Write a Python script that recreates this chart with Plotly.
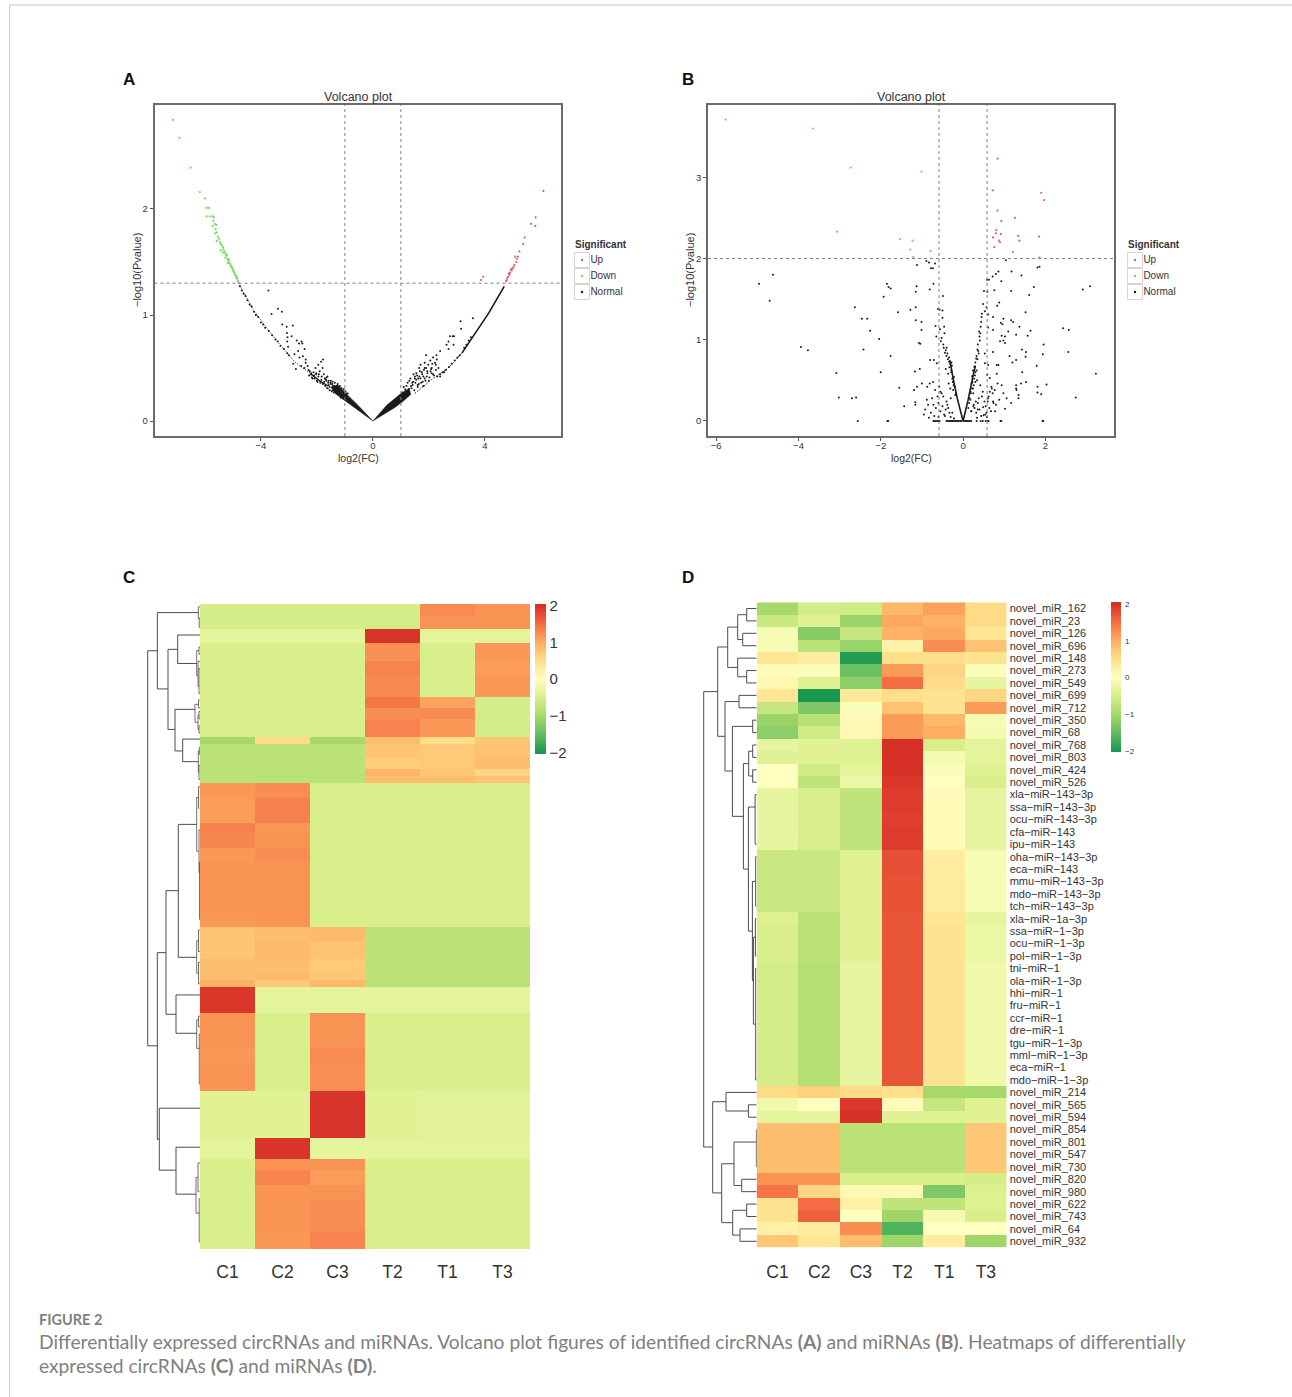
import plotly.graph_objects as go

W, H = 1292, 1397
FONT = "Liberation Sans"
LEGEND_NAMES = ["Up", "Down", "Normal"]
LEGEND_COLORS = ["#d9606a", "#6fdc5c", "#1a1a1a"]
GROUPS = ["C1", "C2", "C3", "T2", "T1", "T3"]

# ---------- Panel A values (log2(FC), -log10(Pvalue)) ----------
a_up_x = [6.09, 5.81, 5.65, 5.80, 5.42, 5.37, 5.23, 5.18, 5.14, 5.12, 5.08, 5.05, 5.02, 4.98, 4.96, 4.93, 4.90, 4.88, 4.85, 4.83, 4.80, 4.78, 4.76, 3.94, 3.86]
a_up_y = [2.17, 1.92, 1.86, 1.84, 1.73, 1.67, 1.60, 1.55, 1.53, 1.50, 1.55, 1.47, 1.45, 1.44, 1.42, 1.43, 1.40, 1.38, 1.39, 1.36, 1.35, 1.33, 1.32, 1.36, 1.33]
a_down_x = [-7.14, -6.91, -6.51, -6.18, -5.99, -5.94, -5.86, -5.94, -5.82, -5.72, -5.70, -5.68, -5.65, -5.72, -5.62, -5.60, -5.57, -5.63, -5.54, -5.50, -5.58, -5.47, -5.44, -5.40, -5.44, -5.36, -5.34, -5.30, -5.36, -5.27, -5.24, -5.22, -5.27, -5.19, -5.16, -5.14, -5.18, -5.11, -5.09, -5.06, -5.04, -5.02, -5.00, -4.98, -4.96, -4.94, -4.92, -4.90, -4.88, -4.86, -4.84, -4.82, -4.80]
a_down_y = [2.84, 2.67, 2.39, 2.16, 2.10, 2.01, 2.01, 1.93, 1.93, 1.93, 1.89, 1.92, 1.86, 1.84, 1.81, 1.85, 1.78, 1.77, 1.74, 1.72, 1.70, 1.69, 1.67, 1.66, 1.61, 1.64, 1.62, 1.60, 1.59, 1.58, 1.56, 1.57, 1.54, 1.53, 1.51, 1.52, 1.49, 1.49, 1.47, 1.46, 1.45, 1.44, 1.42, 1.42, 1.40, 1.40, 1.38, 1.37, 1.36, 1.35, 1.34, 1.32, 1.31]
a_normal_x = [-3.73, -3.62, -3.39, -3.25, -3.24, -3.08, -2.86, -3.07, -3.05, -2.90, -3.06, -3.03, -2.72, -2.64, -2.55, -2.52, -2.44, -2.67, -2.80, -2.62, -2.50, -2.40, -3.06, -3.00, -2.85, -2.75, -2.56, -2.45, -2.33, -2.30, -2.20, -2.05, -1.95, -1.85, -1.78, -1.80, -1.90, -2.10, -2.00, -1.95, -1.83, -1.75, -1.60, -1.50, -1.45, -1.38, -1.35, -1.28, -1.20, -1.15, -2.40, -2.25, -2.15, -2.28, -2.02, -1.68, -1.55, -1.62, -1.42,
              -2.22, -2.18, -2.12, -2.08, -2.03, -1.98, -1.93, -1.88, -1.84, -1.79, -1.74, -1.70, -1.66, -1.63, -1.58, -1.54, -1.50, -1.47, -1.43, -1.40, -1.72, -1.66, -1.58, -1.52, -1.44, -1.36, -1.30, -1.26, -1.22, -1.18, -1.12, -1.08, -1.04, -0.98, -0.94, -0.90, -1.15, -1.05,
              -4.75, -4.68, -4.62, -4.55, -4.48, -4.40, -4.33, -4.25, -4.18, -4.10, -4.00, -3.92, -3.85, -3.72, -3.60, -3.48, -3.40, -3.30, -3.18,
              3.57, 3.13, 3.15, 2.90, 2.85, 2.75, 2.70, 2.88, 2.63, 2.70, 2.40, 2.27, 2.28, 1.90, 1.85, 2.15, 2.05, 1.70, 1.65, 1.85, 2.10, 1.95, 1.75, 1.55, 1.50, 1.45, 1.70, 1.85, 1.30, 1.40, 1.60, 1.20, 1.15, 1.80, 2.00, 2.25, 2.15, 2.40, 2.55, 1.90, 2.10, 2.25, 1.62, 1.78, 1.38, 1.52,
              1.05, 1.10, 1.18, 1.24, 1.28, 1.34, 1.42, 1.48, 1.55, 1.60, 1.66, 1.72, 1.80, 1.88, 1.94, 2.02, 2.08, 2.18, 2.22, 2.34, 1.36, 1.44, 1.50, 1.58, 1.64, 1.68, 1.76, 1.82, 1.92, 1.98, 2.06, 2.12,
              2.30, 2.40, 2.50, 2.60, 2.72, 2.82, 2.92, 3.02, 3.10, 3.26, 3.34, 3.42, 3.50]
a_normal_y = [1.23, 1.01, 1.06, 1.03, 0.91, 0.89, 0.90, 0.83, 0.79, 0.80, 0.75, 0.70, 0.76, 0.73, 0.75, 0.73, 0.68, 0.66, 0.63, 0.60, 0.61, 0.58, 0.64, 0.62, 0.54, 0.49, 0.52, 0.50, 0.52, 0.48, 0.45, 0.50, 0.53, 0.56, 0.58, 0.50, 0.47, 0.43, 0.38, 0.42, 0.42, 0.44, 0.36, 0.38, 0.35, 0.33, 0.30, 0.30, 0.27, 0.25, 0.55, 0.47, 0.40, 0.43, 0.45, 0.39, 0.32, 0.42, 0.29,
              0.44, 0.41, 0.46, 0.40, 0.44, 0.37, 0.44, 0.36, 0.39, 0.35, 0.37, 0.33, 0.38, 0.31, 0.34, 0.29, 0.35, 0.28, 0.33, 0.27, 0.40, 0.41, 0.38, 0.36, 0.37, 0.36, 0.33, 0.35, 0.31, 0.33, 0.31, 0.28, 0.30, 0.28, 0.26, 0.26, 0.22, 0.21,
              1.27, 1.23, 1.20, 1.18, 1.14, 1.10, 1.08, 1.03, 1.00, 0.98, 0.93, 0.91, 0.88, 0.85, 0.81, 0.77, 0.75, 0.71, 0.68,
              0.97, 0.94, 0.87, 0.80, 0.80, 0.80, 0.75, 0.72, 0.72, 0.68, 0.66, 0.62, 0.58, 0.62, 0.55, 0.60, 0.57, 0.53, 0.50, 0.50, 0.50, 0.45, 0.46, 0.45, 0.42, 0.44, 0.40, 0.40, 0.38, 0.36, 0.34, 0.33, 0.30, 0.33, 0.38, 0.48, 0.44, 0.42, 0.46, 0.50, 0.45, 0.53, 0.40, 0.37, 0.31, 0.36,
              0.27, 0.32, 0.28, 0.36, 0.30, 0.40, 0.34, 0.29, 0.39, 0.32, 0.42, 0.36, 0.42, 0.38, 0.47, 0.41, 0.49, 0.43, 0.55, 0.50, 0.33, 0.37, 0.40, 0.43, 0.35, 0.47, 0.44, 0.48, 0.42, 0.53, 0.47, 0.54,
              0.42, 0.44, 0.46, 0.48, 0.51, 0.54, 0.57, 0.60, 0.62, 0.69, 0.72, 0.76, 0.79]
# densest arcs and wedges of panel A, read as polylines and outlines
a_ridges = [
    ([-4.8, -4.27, -3.77, -3.35, -2.80, -2.14, -1.53], [1.30, 1.05, 0.87, 0.73, 0.56, 0.43, 0.29], 1.0, "1px,1.5px"),
    ([1.5, 2.09, 2.69, 3.18], [0.26, 0.39, 0.50, 0.64], 1.0, "1.5px,1.5px"),
    ([3.18, 3.66, 4.14, 4.69], [0.64, 0.83, 1.02, 1.27], 1.6, "solid"),
    ([-2.2, -1.9, -1.6], [0.44, 0.38, 0.33], 1.4, "solid"),
]
a_wedge_x = [0.0, -0.9, -1.35, -1.50, -1.25, -1.0, -0.5, 0.0, None, 0.0, 0.8, 1.1, 1.35, 1.30, 1.0, 0.5, 0.0]
a_wedge_y = [0.0, 0.17, 0.26, 0.32, 0.34, 0.27, 0.14, 0.0, None, 0.0, 0.13, 0.19, 0.25, 0.31, 0.26, 0.15, 0.0]

# ---------- Panel B values ----------
b_up_x = [0.84, 0.72, 1.90, 1.97, 0.84, 1.26, 0.93, 0.81, 0.80, 0.92, 0.73, 0.87, 0.90, 1.34, 1.37, 1.85, 0.76, 1.21, 1.86]
b_up_y = [3.23, 2.84, 2.81, 2.72, 2.59, 2.50, 2.46, 2.35, 2.31, 2.30, 2.26, 2.22, 2.20, 2.28, 2.22, 2.27, 2.14, 2.08, 2.01]
b_down_x = [-5.77, -3.65, -2.73, -1.01, -3.06, -1.53, -1.23, -1.28, -0.79, -1.21]
b_down_y = [3.71, 3.60, 3.12, 3.07, 2.33, 2.24, 2.22, 2.11, 2.09, 2.02]
b_normal_x = [-4.62, -4.96, -4.70, -3.94, -3.77, -2.63, -2.46, -2.33, -2.26, -2.04, -2.42, -1.93, -1.85, -1.81, -1.76, -1.58, -1.28, -1.15, -1.15, -1.01, -1.01, -1.07, -1.04, -1.76, -1.13, -1.15, -1.12, -0.89, -0.83, -0.78, -0.73, -0.68, -0.72, -0.81, -0.49, -0.61, -0.57, -0.50,
              -3.08, -2.00, -3.02, -2.70, -2.60, -1.55, -1.43, -1.16, -1.16, -1.19, -1.12, -1.17, -1.05, -1.00, -0.87, -0.81, -0.73, -0.80, -0.71, -0.64, -0.67, -0.65,
              3.09, 2.91, 3.23, 2.74, 2.43, 2.57, 2.56, 1.96, 1.94, 2.03, 1.79, 1.81, 1.81, 1.90, 1.86, 1.81, 1.72, 1.61, 1.52, 1.64, 1.57, 1.42, 1.18, 1.17, 1.37, 1.29, 1.43, 1.53, 1.52, 1.29, 1.20, 1.13, 1.44, 1.53, 1.41, 1.29, 1.29, 1.30, 1.35, 1.35, 1.17, 1.02, 1.06,
              1.04, 0.86, 0.80, 0.72, 0.63, 0.58, 0.93, 0.76, 0.51, 0.59, 0.88, 0.83, 0.49, 0.57, 0.53, 0.61, 0.73, 0.98, 1.17, 1.22, 0.92, 0.96, 0.61, 0.73, 1.10, 0.94, 1.02, 0.90, 0.98, 1.02, 0.73, 0.53, 0.86, 0.82, 0.53, 0.61, 0.82, 0.59, 0.65, 0.84, 0.94, 0.69, 0.77, 0.65, 0.98, 0.73, 0.61, 0.49, 0.57, 0.36,
              -0.50, -0.46, -0.45, -0.54, -0.48, -0.42, -0.38, -0.34, -0.56, -0.52, -0.47, -0.44, -0.40, -0.37,
              0.45, 0.43, 0.40, 0.36, 0.38, 0.32, 0.28, 0.44, 0.39, 0.41, 0.35, 0.46, 0.33, 0.30, 0.24, 0.22, 0.42,
              -0.92, -0.85, -0.78, -0.70, -0.66, -0.60, -0.55, -0.50, -0.46, -0.42, -0.75, -0.62, -0.52, -0.95, -0.83, -0.68, -0.58, -0.48, -0.40, -0.36, -0.33, -0.88, -0.72, -0.60, -0.44, -0.30, -0.26, -0.22, -0.55, -0.38,
              0.28, 0.32, 0.36, 0.40, 0.46, 0.50, 0.55, 0.60, 0.68, 0.72, 0.80, 0.88, 0.25, 0.34, 0.42, 0.48, 0.54, 0.64, 0.70, 0.78, 0.20, 0.30, 0.38, 0.52, 0.62, 0.18, 0.26, 0.44, 0.58, 0.74,
              -0.35, -0.31, -0.28, -0.25, -0.22, -0.19, -0.30, -0.27, -0.24, -0.20, -0.17, -0.42, -0.36, -0.33, -0.29, -0.26, -0.23, -0.40, -0.34, -0.31, -0.28,
              0.15, 0.18, 0.21, 0.24, 0.27, 0.30, 0.13, 0.16, 0.19, 0.23, 0.26, 0.29, 0.33, 0.20, 0.25, 0.31, 0.35, 0.37, 0.22, 0.28, 0.34,
              -2.56, -1.84, -1.82, -0.72, -0.69, -0.66, -0.63, -0.60, -0.57, -0.40, -0.37, -0.34, -0.31, -0.28, -0.25, -0.22, -0.19, -0.16, -0.13, -0.10, -0.07, -0.04, 0.02, 0.05, 0.08, 0.11, 0.14, 0.17, 0.20, 0.33, 0.43, 0.48, 0.55, 0.60, 0.62, 0.91, 0.93, 1.93, 1.95]
b_normal_y = [1.80, 1.69, 1.48, 0.91, 0.87, 1.40, 1.26, 1.26, 1.11, 1.01, 0.88, 1.53, 1.69, 1.65, 1.63, 1.34, 1.37, 1.40, 1.24, 1.22, 1.12, 0.96, 0.95, 0.80, 1.66, 1.59, 1.92, 1.97, 1.95, 1.88, 1.88, 1.94, 1.69, 1.62, 1.54, 1.38, 1.37, 1.36,
              0.59, 0.60, 0.29, 0.28, 0.29, 0.41, 0.18, 0.23, 0.20, 0.38, 0.42, 0.61, 0.64, 0.46, 0.42, 0.46, 0.48, 0.75, 0.75, 0.71, 1.17, 1.04,
              1.66, 1.62, 0.58, 0.29, 1.14, 1.12, 0.85, 0.94, 0.82, 0.45, 0.68, 0.42, 0.35, 0.33, 1.90, 1.89, 1.65, 1.55, 1.34, 1.11, 1.05, 1.79, 1.84, 1.60, 1.16, 1.06, 0.88, 0.85, 0.79, 0.75, 0.72, 0.80, 0.60, 0.48, 0.46, 0.44, 0.40, 0.38, 0.32, 0.28, 0.22, 0.15, 0.28,
              1.98, 1.84, 1.81, 1.78, 1.74, 1.74, 1.72, 1.61, 1.60, 1.59, 1.46, 1.42, 1.44, 1.40, 1.35, 1.31, 1.28, 1.26, 1.24, 1.22, 1.21, 1.19, 1.15, 1.12, 1.10, 1.05, 1.04, 0.98, 0.99, 0.96, 0.85, 0.83, 0.69, 0.69, 0.71, 0.69, 0.58, 0.57, 0.53, 0.46, 0.44, 0.42, 0.38, 0.36, 0.34, 0.24, 0.28, 0.17, 0.10, 0.14,
              1.27, 1.16, 1.08, 0.98, 0.94, 0.87, 0.83, 0.73, 1.13, 1.02, 0.90, 0.84, 0.80, 0.76,
              1.28, 1.16, 1.04, 0.94, 0.83, 0.77, 0.67, 1.22, 1.10, 0.99, 0.88, 1.32, 0.80, 0.72, 0.62, 0.55, 1.08,
              0.14, 0.20, 0.10, 0.06, 0.16, 0.22, 0.12, 0.18, 0.08, 0.14, 0.28, 0.30, 0.34, 0.08, 0.04, 0.38, 0.42, 0.30, 0.24, 0.16, 0.10, 0.26, 0.20, 0.05, 0.06, 0.05, 0.10, 0.03, 0.36, 0.20,
              0.16, 0.10, 0.22, 0.14, 0.30, 0.07, 0.18, 0.24, 0.12, 0.34, 0.20, 0.26, 0.34, 0.04, 0.44, 0.36, 0.08, 0.16, 0.40, 0.12, 0.12, 0.48, 0.28, 0.24, 0.30, 0.26, 0.20, 0.06, 0.05, 0.22,
              0.46, 0.40, 0.62, 0.48, 0.54, 0.32, 0.28, 0.68, 0.38, 0.42, 0.34, 0.64, 0.58, 0.66, 0.60, 0.52, 0.44, 0.90, 0.78, 0.70, 0.72,
              0.22, 0.36, 0.46, 0.40, 0.52, 0.60, 0.16, 0.28, 0.34, 0.48, 0.44, 0.56, 0.62, 0.12, 0.18, 0.24, 0.76, 0.86, 0.40, 0.66, 0.50,
              0.0, 0.0, 0.0, 0.0, 0.0, 0.0, 0.0, 0.0, 0.0, 0.0, 0.0, 0.0, 0.0, 0.0, 0.0, 0.0, 0.0, 0.0, 0.0, 0.0, 0.0, 0.0, 0.0, 0.0, 0.0, 0.0, 0.0, 0.0, 0.0, 0.0, 0.0, 0.0, 0.0, 0.0, 0.0, 0.0, 0.0, 0.0, 0.0]
b_ridges = [
    ([0.0, -0.15, -0.25, -0.32], [0.0, 0.30, 0.55, 0.75], 1.6, "solid"),
    ([0.0, 0.12, 0.24, 0.30], [0.0, 0.25, 0.55, 0.68], 1.6, "solid"),
]

# ---------- Panel C heatmap values: row edges and one z row per band ----------
c_edges = [0, 3, 7, 11, 16, 20, 26, 29, 32, 37, 39, 43, 46, 48, 50, 54, 61, 64, 68, 72, 86, 90, 94, 99, 103, 105, 107, 114, 124, 128, 136, 149, 155, 158, 162, 166, 175, 180]
c_z = [
    [-0.55, -0.55, -0.55, -0.55, 1.28, 1.20],
    [-0.55, -0.55, -0.55, -0.55, 1.20, 1.20],
    [-0.35, -0.35, -0.35, 1.97, -0.35, -0.35],
    [-0.50, -0.50, -0.50, 1.22, -0.50, 1.18],
    [-0.50, -0.50, -0.50, 1.32, -0.50, 1.13],
    [-0.50, -0.50, -0.50, 1.28, -0.50, 1.17],
    [-0.50, -0.50, -0.50, 1.42, 1.08, -0.55],
    [-0.50, -0.50, -0.50, 1.25, 1.27, -0.55],
    [-0.50, -0.50, -0.50, 1.32, 1.17, -0.55],
    [-1.00, 0.55, -1.00, 0.85, 0.50, 0.75],
    [-0.80, -0.80, -0.80, 0.77, 0.72, 0.80],
    [-0.80, -0.80, -0.80, 0.68, 0.72, 0.85],
    [-0.80, -0.80, -0.80, 0.92, 0.75, 0.60],
    [-0.80, -0.80, -0.80, 0.85, 0.85, 0.80],
    [1.17, 1.25, -0.50, -0.50, -0.50, -0.50],
    [1.13, 1.35, -0.50, -0.50, -0.50, -0.50],
    [1.35, 1.18, -0.50, -0.50, -0.50, -0.50],
    [1.30, 1.20, -0.50, -0.50, -0.50, -0.50],
    [1.17, 1.25, -0.50, -0.50, -0.50, -0.50],
    [1.20, 1.20, -0.50, -0.50, -0.50, -0.50],
    [1.17, 1.20, -0.50, -0.50, -0.50, -0.50],
    [0.77, 0.85, 0.88, -0.80, -0.80, -0.80],
    [0.77, 0.88, 0.80, -0.80, -0.80, -0.80],
    [0.85, 0.85, 0.72, -0.80, -0.80, -0.80],
    [0.85, 0.88, 0.75, -0.80, -0.80, -0.80],
    [0.97, 0.72, 0.90, -0.80, -0.80, -0.80],
    [1.95, -0.35, -0.35, -0.35, -0.35, -0.35],
    [1.20, -0.50, 1.20, -0.50, -0.50, -0.50],
    [1.17, -0.50, 1.27, -0.50, -0.50, -0.50],
    [1.20, -0.50, 1.23, -0.50, -0.50, -0.50],
    [-0.40, -0.40, 1.97, -0.40, -0.38, -0.38],
    [-0.35, 1.97, -0.35, -0.35, -0.35, -0.35],
    [-0.50, 1.20, 1.20, -0.50, -0.50, -0.50],
    [-0.50, 1.33, 1.13, -0.50, -0.50, -0.50],
    [-0.50, 1.20, 1.20, -0.50, -0.50, -0.50],
    [-0.50, 1.20, 1.25, -0.50, -0.50, -0.50],
    [-0.50, 1.17, 1.32, -0.50, -0.50, -0.50],
]
# dendrogram merges: (height, row_a, height_a, row_b, height_b)
c_merges = [
    (22.3, 8.65, 0, 16.6, 3.3), (17.3, 37.7, 0, 44, 1.7), (25, 29.4, 5, 41, 17.3), (32, 12.65, 22.3, 35, 25),
    (42.7, 2.4, 1.7, 23.7, 32), (21.7, 61.5, 3.3, 98.6, 3.3), (24, 109.1, 0, 119.8, 3.3), (34, 80, 21.7, 114.5, 24),
    (24, 151.6, 0, 164.7, 4), (40.7, 140.7, 0, 158, 24), (42.7, 97.3, 34, 149.4, 40.7), (52.3, 13.05, 42.7, 123.3, 42.7),
]
c_fine_merges = [
    (1.7, 0.8, 0, 4, 0), (0.8, 4, 0, 6.5, 0),
    (3.3, 13, 1, 20, 2), (2, 16, 0, 23, 1), (1, 12, 0, 14, 0), (1, 18, 0, 25, 0),
    (5, 28, 1.5, 33, 2), (1.5, 26.8, 0, 29, 0), (2, 31, 1, 35, 1), (1, 30, 0, 32, 0), (1, 34, 0, 36, 0),
    (1.7, 41, 0.7, 47, 1), (0.7, 40, 0, 42, 0), (1, 45, 0, 49, 0),
    (3.3, 54, 1.5, 69, 1), (1.5, 51, 0, 57, 0.5), (1, 63, 0, 75, 0.5), (0.5, 72, 0, 88, 0),
    (3.3, 94, 1.5, 103, 1.5), (1.5, 91, 0, 97, 0), (1.5, 100, 0, 106, 0),
    (3.3, 116, 1.5, 124, 0.7), (1.5, 115, 0, 118, 0), (0.7, 120, 0, 134, 0),
    (4, 160, 2, 170, 0.8), (2, 156, 0, 164, 0.5), (0.8, 166, 0, 178, 0),
]

# ---------- Panel D heatmap values ----------
d_names = ["novel_miR_162", "novel_miR_23", "novel_miR_126", "novel_miR_696", "novel_miR_148", "novel_miR_273", "novel_miR_549", "novel_miR_699", "novel_miR_712", "novel_miR_350", "novel_miR_68", "novel_miR_768", "novel_miR_803", "novel_miR_424", "novel_miR_526",
           "xla−miR−143−3p", "ssa−miR−143−3p", "ocu−miR−143−3p", "cfa−miR−143", "ipu−miR−143", "oha−miR−143−3p", "eca−miR−143", "mmu−miR−143−3p", "mdo−miR−143−3p", "tch−miR−143−3p",
           "xla−miR−1a−3p", "ssa−miR−1−3p", "ocu−miR−1−3p", "pol−miR−1−3p", "tni−miR−1", "ola−miR−1−3p", "hhi−miR−1", "fru−miR−1", "ccr−miR−1", "dre−miR−1", "tgu−miR−1−3p", "mml−miR−1−3p", "eca−miR−1", "mdo−miR−1−3p",
           "novel_miR_214", "novel_miR_565", "novel_miR_594", "novel_miR_854", "novel_miR_801", "novel_miR_547", "novel_miR_730", "novel_miR_820", "novel_miR_980", "novel_miR_622", "novel_miR_743", "novel_miR_64", "novel_miR_932"]
d_z = [
    [-1.00, -0.55, -0.60, 0.90, 1.10, 0.55], [-0.65, -0.40, -1.10, 1.05, 0.95, 0.55], [-0.10, -1.25, -0.70, 0.95, 1.05, 0.40], [-0.10, -0.80, -1.10, 0.20, 1.25, 0.80],
    [0.40, 0.30, -1.95, 0.50, 0.50, 0.45], [0.05, -0.05, -1.45, 1.15, 0.60, -0.05], [0.15, -0.40, -1.20, 1.50, 0.55, -0.30], [0.40, -2.00, 0.35, 0.50, 0.45, 0.60],
    [-0.70, -1.30, -0.05, 0.80, 0.45, 1.15], [-1.10, -0.85, 0.10, 1.15, 0.90, -0.10], [-1.20, -0.60, 0.10, 1.15, 1.00, -0.15], [-0.30, -0.40, -0.45, 2.00, -0.50, -0.35],
    [-0.40, -0.40, -0.45, 2.00, -0.15, -0.35], [0.00, -0.60, -0.35, 2.00, -0.05, -0.40], [0.00, -0.75, -0.25, 1.95, 0.00, -0.50],
    [-0.30, -0.50, -0.75, 1.90, 0.05, -0.30], [-0.30, -0.50, -0.75, 1.90, 0.05, -0.30], [-0.30, -0.50, -0.75, 1.88, 0.05, -0.30], [-0.30, -0.50, -0.75, 1.90, 0.05, -0.30], [-0.30, -0.52, -0.75, 1.90, 0.05, -0.30],
    [-0.65, -0.65, -0.40, 1.75, 0.30, -0.10], [-0.65, -0.65, -0.40, 1.75, 0.30, -0.10], [-0.65, -0.65, -0.40, 1.72, 0.32, -0.10], [-0.65, -0.65, -0.40, 1.72, 0.32, -0.10], [-0.65, -0.65, -0.40, 1.72, 0.32, -0.10],
    [-0.45, -0.80, -0.40, 1.70, 0.40, -0.30], [-0.50, -0.80, -0.40, 1.70, 0.45, -0.25], [-0.50, -0.80, -0.40, 1.70, 0.45, -0.25], [-0.50, -0.80, -0.40, 1.70, 0.45, -0.25],
    [-0.55, -0.85, -0.30, 1.70, 0.45, -0.20], [-0.55, -0.85, -0.30, 1.70, 0.45, -0.20], [-0.55, -0.85, -0.30, 1.70, 0.45, -0.20], [-0.55, -0.85, -0.30, 1.70, 0.45, -0.20], [-0.55, -0.85, -0.30, 1.70, 0.45, -0.20],
    [-0.55, -0.85, -0.30, 1.70, 0.45, -0.20], [-0.55, -0.85, -0.30, 1.70, 0.45, -0.20], [-0.55, -0.85, -0.30, 1.70, 0.45, -0.20], [-0.55, -0.85, -0.30, 1.70, 0.45, -0.20], [-0.55, -0.85, -0.30, 1.70, 0.45, -0.20],
    [0.55, 0.65, 0.55, 0.50, -1.00, -1.00], [-0.20, 0.00, 1.95, 0.05, -0.70, -0.40], [-0.35, -0.30, 2.00, -0.40, -0.40, -0.40],
    [0.85, 0.85, -0.80, -0.80, -0.80, 0.75], [0.85, 0.85, -0.80, -0.80, -0.80, 0.75], [0.85, 0.85, -0.80, -0.80, -0.80, 0.75], [0.85, 0.85, -0.80, -0.80, -0.80, 0.75],
    [1.20, 1.20, -0.50, -0.50, -0.50, -0.55], [1.45, 0.60, 0.10, 0.10, -1.30, -0.45], [0.45, 1.50, 0.25, -0.75, -0.75, -0.45], [0.45, 1.60, 0.00, -1.05, -0.15, -0.50],
    [0.25, 0.30, 1.25, -1.65, 0.00, 0.00], [0.75, 0.40, 0.85, -1.05, 0.30, -1.05],
]
d_merges = [
    (10, .5, 0, 1.5, 0), (14, 2.5, 0, 3.5, 0), (19, 1, 10, 3, 14), (10, 5.5, 0, 6.5, 0), (19, 4.5, 0, 6, 10), (29, 2, 19, 5.25, 19),
    (17.7, 7.5, 0, 8.5, 0), (4, 9.5, 0, 10.5, 0), (4, 11.5, 0, 12.5, 0), (4, 13.5, 0, 14.5, 0), (8, 12, 4, 14, 4),
    (1.6, 15.5, 0, 19.5, 0), (1, 20.5, 0, 24.5, 0), (1.3, 25.5, 0, 28.5, 0), (1, 29.5, 0, 38.5, 0), (3.3, 27, 1.3, 34, 1), (4.3, 22.5, 1, 30.5, 3.3), (8.3, 16.5, 1.6, 26.5, 4.3),
    (13.3, 13, 8, 21.5, 8.3), (24.3, 10, 4, 17.25, 13.3), (31.7, 8, 17.7, 13.6, 24.3), (39, 3.6, 29, 10.8, 31.7),
    (8.3, 40.5, 0, 41.5, 0), (30.7, 39.5, 0, 41, 8.3), (0.3, 42.5, 0, 45.5, 0), (15, 46.5, 0, 47.5, 0), (22.7, 43.5, 0.3, 47, 15),
    (10, 48.5, 0, 49.5, 0), (16.7, 50.5, 0, 51.5, 0), (24, 49, 10, 51, 16.7), (35, 45.25, 22.7, 50, 24), (44, 40.25, 30.7, 47.6, 35), (53, 7.2, 39, 43.9, 44),
]

CMAP_STOPS = [(-2, "#1a9850"), (-1.5, "#66bd63"), (-1, "#a6d96a"), (-0.5, "#d9ef8b"), (0, "#ffffbf"), (0.5, "#fee08b"), (1, "#fdae61"), (1.5, "#f46d43"), (2, "#d73027")]
ZMIN, ZMAX = -2.04, 2.05
colorscale = [[0.0, "#1a9850"]] + [[(v - ZMIN) / (ZMAX - ZMIN), c] for v, c in CMAP_STOPS] + [[1.0, "#d73027"]]


def dom_x(a, b):
    return [a / W, b / W]


def dom_y(top, bottom):
    return [1 - bottom / H, 1 - top / H]


def bracket_lines(merges):
    xs, ys = [], []
    for h, ya, ha, yb, hb in merges:
        xs += [ha, h, h, hb, None]
        ys += [ya, ya, yb, yb, None]
    return xs, ys


fig = go.Figure()


def volcano(xa, ya, up, down, normal, ridges):
    for xy, color, name, size in [(up, LEGEND_COLORS[0], "Up", 2.2), (down, LEGEND_COLORS[1], "Down", 2.2), (normal, LEGEND_COLORS[2], "Normal", 2.0)]:
        fig.add_trace(go.Scatter(x=xy[0], y=xy[1], mode="markers", name=name, showlegend=False, xaxis=xa, yaxis=ya,
                                 marker=dict(color=color, size=size, line=dict(width=0))))
    for rx, ry, w, dash in ridges:
        fig.add_trace(go.Scatter(x=rx, y=ry, mode="lines", showlegend=False, xaxis=xa, yaxis=ya, line=dict(color="#1a1a1a", width=w, dash=dash)))


volcano("x", "y", (a_up_x, a_up_y), (a_down_x, a_down_y), (a_normal_x, a_normal_y), a_ridges)
fig.add_trace(go.Scatter(x=a_wedge_x, y=a_wedge_y, mode="lines", fill="toself", fillcolor="#1a1a1a", showlegend=False, xaxis="x", yaxis="y", line=dict(color="#1a1a1a", width=0.5)))
volcano("x2", "y2", (b_up_x, b_up_y), (b_down_x, b_down_y), (b_normal_x, b_normal_y), b_ridges)

# legend keys on small helper axes
legend_rows = [0, 1, 2]
for xa, ya in [("x7", "y7"), ("x8", "y8")]:
    fig.add_trace(go.Scatter(x=[0, 0, 0], y=legend_rows, mode="markers", showlegend=False, xaxis=xa, yaxis=ya,
                             marker=dict(symbol="square-open", size=15, color="#d4d4d4", line=dict(width=1, color="#d4d4d4"))))
    fig.add_trace(go.Scatter(x=[0, 0, 0], y=legend_rows, mode="markers", showlegend=False, xaxis=xa, yaxis=ya,
                             marker=dict(color=LEGEND_COLORS, size=2.4, line=dict(width=0))))
    fig.add_trace(go.Scatter(x=[1.05, 1.05, 1.05], y=legend_rows, mode="text", text=LEGEND_NAMES, textposition="middle right", cliponaxis=False,
                             showlegend=False, xaxis=xa, yaxis=ya, textfont=dict(family=FONT, size=10, color="#333333")))

fig.add_trace(go.Heatmap(z=c_z, x=GROUPS, y=c_edges, xaxis="x3", yaxis="y3", zmin=ZMIN, zmax=ZMAX, colorscale=colorscale, hoverinfo="skip",
                         colorbar=dict(x=535 / W, xanchor="left", y=1 - 604 / H, yanchor="top", lenmode="pixels", len=150, thicknessmode="pixels", thickness=11,
                                       xpad=0, ypad=0, outlinewidth=0, tickvals=[-2, -1, 0, 1, 2], ticks="outside", ticklen=1, tickcolor="rgba(0,0,0,0)",
                                       tickfont=dict(family=FONT, size=15, color="#333333"))))
xm, ym = bracket_lines(c_merges)
fig.add_trace(go.Scatter(x=xm, y=ym, mode="lines", showlegend=False, xaxis="x4", yaxis="y3", line=dict(color="#4d4d4d", width=1)))
xm, ym = bracket_lines(c_fine_merges)
fig.add_trace(go.Scatter(x=xm, y=ym, mode="lines", showlegend=False, xaxis="x4", yaxis="y3", line=dict(color="#4d4d4d", width=0.8)))

d_rows = [i + 0.5 for i in range(len(d_names))]
fig.add_trace(go.Heatmap(z=d_z, x=GROUPS, y=d_rows, xaxis="x5", yaxis="y5", zmin=ZMIN, zmax=ZMAX, colorscale=colorscale, hoverinfo="skip",
                         colorbar=dict(x=1110.7 / W, xanchor="left", y=1 - 602.3 / H, yanchor="top", lenmode="pixels", len=150, thicknessmode="pixels", thickness=10,
                                       xpad=0, ypad=0, outlinewidth=0, tickvals=[-2, -1, 0, 1, 2], ticks="outside", ticklen=3, tickcolor="rgba(0,0,0,0)",
                                       tickfont=dict(family=FONT, size=8, color="#333333"))))
xm, ym = bracket_lines(d_merges)
fig.add_trace(go.Scatter(x=xm, y=ym, mode="lines", showlegend=False, xaxis="x6", yaxis="y5", line=dict(color="#4d4d4d", width=1)))

frame = dict(showline=True, mirror=True, linecolor="#6a6a6a", linewidth=1.6, showgrid=False, zeroline=False, ticks="outside", ticklen=3,
             tickcolor="#555555", tickfont=dict(family=FONT, size=9.5, color="#333333"))
hidden = dict(visible=False, showgrid=False, zeroline=False)

fig.update_layout(
    width=W, height=H, autosize=False, margin=dict(l=0, r=0, t=0, b=0), paper_bgcolor="white", plot_bgcolor="white", showlegend=False,
    font=dict(family=FONT),
    xaxis=dict(domain=dom_x(154.5, 560.5), range=[-7.80, 6.70], tickvals=[-4, 0, 4], anchor="y", ticklabelstandoff=-3, **frame),
    yaxis=dict(domain=dom_y(105, 436), range=[-0.1415, 2.981], tickvals=[0, 1, 2], anchor="x", **frame),
    xaxis2=dict(domain=dom_x(708, 1114), range=[-6.20, 3.67], tickvals=[-6, -4, -2, 0, 2], anchor="y2", ticklabelstandoff=-3, **frame),
    yaxis2=dict(domain=dom_y(105, 436), range=[-0.185, 3.89], tickvals=[0, 1, 2, 3], anchor="x2", **frame),
    xaxis3=dict(domain=dom_x(200, 530), anchor="y3", showgrid=False, zeroline=False, ticks="outside", ticklen=7, tickcolor="rgba(0,0,0,0)",
                tickfont=dict(family=FONT, size=17.5, color="#333333")),
    yaxis3=dict(domain=dom_y(604, 1249), range=[180, 0], anchor="x3", **hidden),
    xaxis4=dict(domain=dom_x(146.5, 200), range=[53.5, 0], anchor="y3", **hidden),
    xaxis5=dict(domain=dom_x(756.7, 1006.7), anchor="y5", showgrid=False, zeroline=False, ticks="outside", ticklen=8, tickcolor="rgba(0,0,0,0)",
                tickfont=dict(family=FONT, size=17.5, color="#333333")),
    yaxis5=dict(domain=dom_y(602.3, 1247.5), range=[52, 0], anchor="x5", side="right", tickvals=d_rows, ticktext=d_names, showgrid=False, zeroline=False,
                ticks="", ticklabelstandoff=2, showline=False, tickfont=dict(family=FONT, size=11, color="#333333")),
    xaxis6=dict(domain=dom_x(703, 756.7), range=[53.7, 0], anchor="y5", **hidden),
    xaxis7=dict(domain=dom_x(574, 625), range=[-1, 5.375], anchor="y7", **hidden),
    yaxis7=dict(domain=dom_y(252, 300), range=[2.5, -0.5], anchor="x7", **hidden),
    xaxis8=dict(domain=dom_x(1127, 1178), range=[-1, 5.375], anchor="y8", **hidden),
    yaxis8=dict(domain=dom_y(252, 300), range=[2.5, -0.5], anchor="x8", **hidden),
)

lines = [("x", "y", [-1, 1], 1.3), ("x2", "y2", [-0.585, 0.585], 2.0)]
for xa, ya, vs, h in lines:
    for v in vs:
        fig.add_shape(type="line", xref=xa, yref=f"{ya} domain", x0=v, x1=v, y0=0, y1=1, line=dict(color="#808080", width=1, dash="dot"))
    fig.add_shape(type="line", xref=f"{xa} domain", yref=ya, x0=0, x1=1, y0=h, y1=h, line=dict(color="#808080", width=1, dash="dot"))

# page frame
fig.add_shape(type="line", xref="paper", yref="paper", x0=9.5 / W, x1=1, y0=1 - 5 / H, y1=1 - 5 / H, line=dict(color="#e2e2e2", width=2))
fig.add_shape(type="line", xref="paper", yref="paper", x0=9.5 / W, x1=9.5 / W, y0=0, y1=1 - 5 / H, line=dict(color="#cccccc", width=1))


def note(px, py, text, size, color="#222222", family=FONT, xanchor="left", angle=0):
    fig.add_annotation(xref="paper", yref="paper", x=px / W, y=1 - py / H, text=text, showarrow=False, xanchor=xanchor, yanchor="middle", textangle=angle,
                       font=dict(family=family, size=size, color=color), borderpad=0, borderwidth=0)


for px, py, t in [(122.5, 79, "A"), (681.5, 79, "B"), (122.5, 577, "C"), (681.5, 577, "D")]:
    note(px, py, f"<b>{t}</b>", 17, "#111111")
for cx, ty in [(358, 137), (911, 690)]:
    note(cx, 97.5, "Volcano plot", 12.5, "#333333", xanchor="center")
    note(cx, 457.5, "log2(FC)", 10.5, "#333333", xanchor="center")
    note(ty, 270, "−log10(Pvalue)", 11, "#333333", xanchor="center", angle=-90)
note(574.5, 245, "<b>Significant</b>", 10, "#333333")
note(1127.5, 245, "<b>Significant</b>", 10, "#333333")
CAP = "Lato"
note(39, 1319, "<b>FIGURE 2</b>", 14.5, "#808080", CAP)
note(39, 1341, "Differentially expressed circRNAs and miRNAs. Volcano plot figures of identified circRNAs <b>(A)</b> and miRNAs <b>(B)</b>. Heatmaps of differentially", 19.2, "#808080", CAP)
note(39, 1365, "expressed circRNAs <b>(C)</b> and miRNAs <b>(D)</b>.", 19.2, "#808080", CAP)

fig.write_html("out.html", config={"displayModeBar": False}, post_script="document.body.style.margin='0';document.documentElement.style.overflow='hidden';")
